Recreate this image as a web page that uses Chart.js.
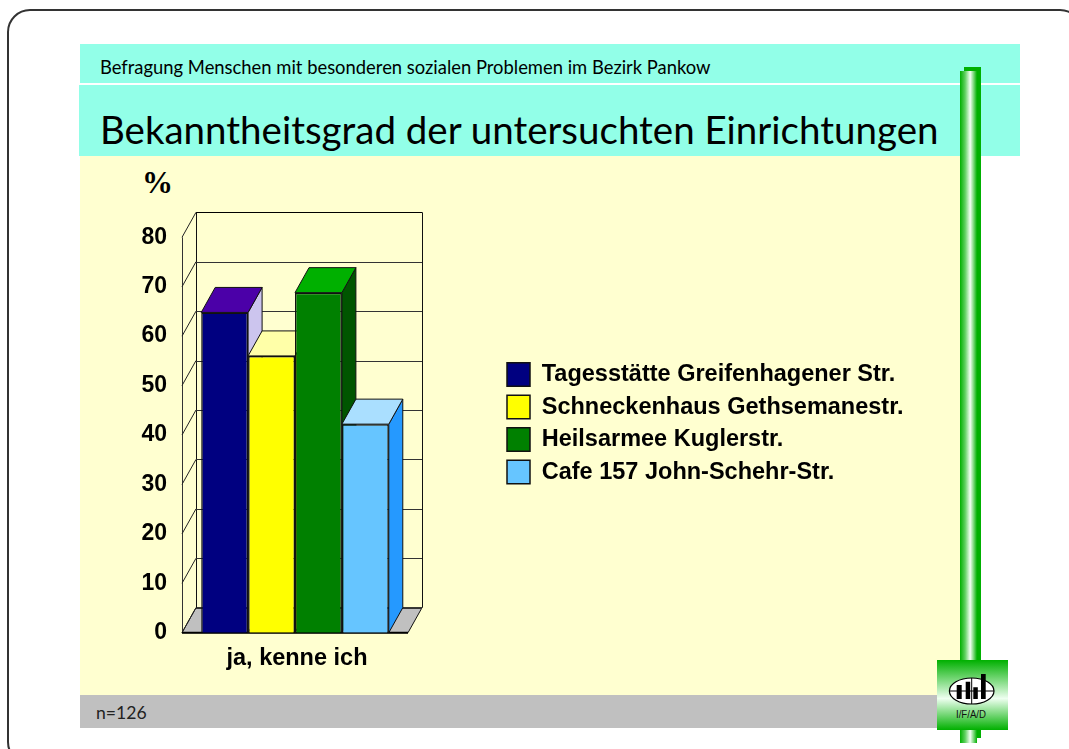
<!DOCTYPE html>
<html lang="de">
<head>
<meta charset="utf-8">
<title>Bekanntheitsgrad</title>
<script src="https://cdn.jsdelivr.net/npm/chart.js@4"></script>
<style>
html,body{margin:0;padding:0;background:#fff;width:1069px;height:749px;overflow:hidden}
.a{position:absolute}
.t{position:absolute;white-space:nowrap;color:#000}
#frame{left:7px;top:9px;width:1072px;height:752px;border:2px solid #333;border-radius:23px}
#chart{position:absolute;left:0;top:0}
</style>
</head>
<body>
<div id="frame" class="a"></div>
<div class="a" style="left:80px;top:44px;width:940px;height:39px;background:#92ffe8"></div>
<div class="a" style="left:79px;top:85px;width:941px;height:71px;background:#92ffe8"></div>
<div class="a" style="left:80px;top:156px;width:880px;height:539px;background:#ffffd0"></div>
<div class="a" style="left:80px;top:695px;width:860px;height:33px;background:#c0c0c0"></div>
<div class="a" style="left:964px;top:67px;width:17px;height:671px;background:#00b000"></div>
<div class="a" style="left:960px;top:71px;width:17px;height:672px;background:linear-gradient(90deg,#00b000 0%,#5fd05f 30%,#f4fff4 60%,#00b000 100%)"></div>
<svg class="a" style="left:937px;top:660px" width="71" height="70" viewBox="937 660 71 70">
  <defs><linearGradient id="g" x1="0" y1="0" x2="0" y2="1">
    <stop offset="0" stop-color="#00b000"/><stop offset=".55" stop-color="#eefff0"/><stop offset="1" stop-color="#00b000"/>
  </linearGradient></defs>
  <rect x="937" y="660" width="71" height="70" fill="url(#g)"/>
  <ellipse cx="971.7" cy="691" rx="22.3" ry="13" fill="#fff" stroke="#000" stroke-width="1.2"/>
  <path d="M949.5 691H994M971.7 678V704" stroke="#000" stroke-width="1" fill="none"/>
  <path d="M956.7 685h5v14h-5zM965.7 681.7h4.5V699h-4.5zM973.3 687.3h4.5V699h-4.5zM981 674h4.7v25H981z" fill="#000"/>
  <text x="971" y="717.5" text-anchor="middle" font-family="Liberation Sans" font-size="10" textLength="30" lengthAdjust="spacingAndGlyphs" fill="#111">I/F/A/D</text>
</svg>
<div class="t" style="left:100px;top:56px;font:18.4px/22px Lato">Befragung Menschen mit besonderen sozialen Problemen im Bezirk Pankow</div>
<div class="t" style="left:100px;top:105px;font:38.5px/48px Lato">Bekanntheitsgrad der untersuchten Einrichtungen</div>
<div class="t" style="left:96px;top:702px;font:17.6px/22px Lato;color:#222">n=126</div>
<div class="t" style="left:142px;top:165px;font:bold 31px/36px 'Liberation Serif'">%</div>
<canvas id="chart" width="1069" height="749"></canvas>
<script>
const categories = ['ja, kenne ich'];
const seriesNames = ['Tagesstätte Greifenhagener Str.', 'Schneckenhaus Gethsemanestr.', 'Heilsarmee Kuglerstr.', 'Cafe 157 John-Schehr-Str.'];
const tagesstaette = [64.8];
const schneckenhaus = [56];
const heilsarmee = [68.8];
const cafe157 = [42.2];
const frontColors = ['#000080', '#ffff00', '#008000', '#66c5ff'];
const topColors = ['#4b00a8', '#ffffa8', '#00b000', '#aadfff'];
const sideColors = ['#ccc5ee', '#b0b000', '#005500', '#2599ff'];
const yMin = 0, yMax = 80, yStep = 10;

const DX = 14, DY = -25;
const crisp = v => Math.round(v) + 0.5;

function poly(ctx, pts, fill, stroke, lw) {
  ctx.beginPath();
  pts.forEach((p, i) => i ? ctx.lineTo(p[0], p[1]) : ctx.moveTo(p[0], p[1]));
  ctx.closePath();
  if (fill) { ctx.fillStyle = fill; ctx.fill(); }
  if (stroke) { ctx.strokeStyle = stroke; ctx.lineWidth = lw || 1; ctx.stroke(); }
}
function line(ctx, x1, y1, x2, y2, c, lw) {
  ctx.beginPath(); ctx.moveTo(x1, y1); ctx.lineTo(x2, y2);
  ctx.strokeStyle = c; ctx.lineWidth = lw || 1; ctx.stroke();
}

const box3d = {
  id: 'box3d',
  afterLayout(chart) {
    const l = chart.legend;
    l.left = 498; l.top = 353.8; l.right = 1000; l.bottom = 520;
    l.width = l.right - l.left; l.height = l.bottom - l.top;
  },
  beforeDatasetsDraw(chart) {
    const { ctx, chartArea: a, scales: { y } } = chart;
    const L = a.left, R = a.right, B = a.bottom;
    ctx.save();
    poly(ctx, [[L, B], [R, B], [R + DX, B + DY], [L + DX, B + DY]], '#c0c0c0', '#111', 1);
    const topPx = y.getPixelForValue(yMax);
    line(ctx, crisp(L + DX), topPx + DY, crisp(L + DX), B + DY, '#111', 1);
    line(ctx, crisp(R + DX), topPx + DY, crisp(R + DX), B + DY, '#111', 1);
    line(ctx, crisp(L), topPx, crisp(L), B, '#333', 1);
    y.ticks.forEach(t => {
      const p = y.getPixelForValue(t.value);
      line(ctx, L + DX, crisp(p + DY), R + DX, crisp(p + DY), t.value === yMax ? '#000' : '#333', 1);
      line(ctx, L, p, L + DX, p + DY, '#222', 1);
    });
    line(ctx, L, B, R, B, '#000', 2);
    chart.data.datasets.forEach((ds, i) => {
      const el = chart.getDatasetMeta(i).data[0];
      const x0 = el.x - el.width / 2, x1 = el.x + el.width / 2, yT = el.y, yB = el.base;
      poly(ctx, [[x1, yT], [x1 + DX, yT + DY], [x1 + DX, yB + DY], [x1, yB]], sideColors[i], '#111', 1);
      poly(ctx, [[x0, yT], [x1, yT], [x1 + DX, yT + DY], [x0 + DX, yT + DY]], topColors[i], '#111', 1);
    });
    ctx.restore();
  }
};

new Chart(document.getElementById('chart'), {
  type: 'bar',
  data: {
    labels: categories,
    datasets: [tagesstaette, schneckenhaus, heilsarmee, cafe157].map((d, i) => ({
      label: seriesNames[i],
      data: d,
      backgroundColor: frontColors[i],
      borderColor: '#111',
      borderWidth: 1.5
    }))
  },
  options: {
    responsive: false,
    animation: false,
    devicePixelRatio: 1,
    layout: { padding: { left: 119.7, top: 237.3, right: 661, bottom: 60 } },
    datasets: { bar: { categoryPercentage: 0.83, barPercentage: 1 } },
    scales: {
      x: {
        grid: { display: false, drawTicks: false },
        border: { display: false },
        ticks: { color: '#000', padding: 12, labelOffset: 2, maxRotation: 0, font: { family: 'Liberation Sans', weight: 'bold', size: 23.5 } },
        afterFit: s => { s.height = 56.3; }
      },
      y: {
        min: yMin, max: yMax,
        grid: { display: false, drawTicks: false },
        border: { display: false },
        ticks: { stepSize: yStep, color: '#000', padding: 15, font: { family: 'Liberation Sans', weight: 'bold', size: 23 } },
        afterFit: s => { s.width = 62.3; }
      }
    },
    plugins: {
      tooltip: { enabled: false },
      title: { display: false },
      legend: {
        position: 'chartArea',
        align: 'start',
        labels: {
          boxWidth: 23, boxHeight: 23.5, padding: 9, color: '#000',
          font: { family: 'Liberation Sans', weight: 'bold', size: 23.5 }
        }
      }
    }
  },
  plugins: [box3d]
});
</script>
</body>
</html>
